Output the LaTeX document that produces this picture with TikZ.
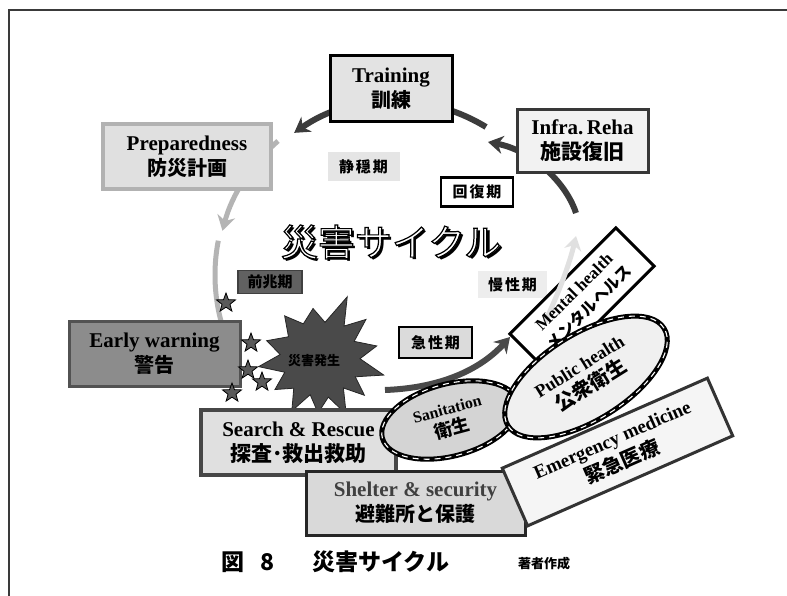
\documentclass[tikz,border=0pt]{standalone}
\usepackage{fontspec}
\setmainfont{Liberation Serif}
\newfontfamily\jp{Noto Sans CJK JP}
\usetikzlibrary{shapes.geometric,arrows.meta}
\definecolor{arcdark}{HTML}{3C3C3C}
\definecolor{arclight}{HTML}{B4B4B4}
\definecolor{arcpale}{HTML}{E0E0E0}
\definecolor{framec}{HTML}{3A3A3A}
\definecolor{burstfill}{HTML}{4A4A4A}
\definecolor{starfill}{HTML}{5A5A5A}
\newcommand\ENt[2][21]{{\fontsize{#1}{25}\selectfont\bfseries #2}}
\newcommand\JPt[2][20]{{\jp\bfseries\fontsize{#1}{25}\selectfont #2}}
\begin{document}
\begin{tikzpicture}[x=1pt,y=-1pt,
  box/.style={rectangle, draw, line width=3pt, inner sep=0pt, align=center, font=\fontsize{20}{25}\selectfont},
  phase/.style={rectangle, inner sep=0pt, minimum width=72pt, minimum height=29pt, font=\jp\bfseries\fontsize{15}{18}\selectfont},
  chain/.style={ellipse, draw=black, line width=5pt, inner sep=0pt, align=center,
     postaction={draw=white, line width=1.1pt, dash pattern=on 6pt off 5pt}},
  ttl/.style={font=\jp\fontsize{37}{40}\selectfont, inner sep=0pt},
  starn/.style={star, star points=5, star point ratio=2.4, minimum size=20pt, inner sep=0pt, fill=starfill, draw=black, line width=0.8pt},
  darkarc/.style={draw=arcdark, line width=6pt},
  lightarc/.style={draw=arclight, line width=5pt},
  bighead/.style={-{Stealth[length=15pt,width=18pt]}}
]
\useasboundingbox (0,0) rectangle (787,596);
\fill[white] (0,0) rectangle (787,596);
% frame
\coordinate (frTR) at (787,10);
\coordinate (frTL) at (9,10);
\coordinate (frBL) at (9,596);
\draw[framec, line width=2pt] (frTR) -- (frTL) -- (frBL);

% cycle arcs (under the boxes)
\coordinate (trTail) at (486,127);
\draw[darkarc, bighead] (trTail) arc[start angle=-58.5, end angle=-125, radius=175];
\coordinate (prTail) at (278,141);
\draw[lightarc, bighead, draw=arclight] (prTail) arc[start angle=-131, end angle=-165.5, radius=178];
\coordinate (ewTail) at (218.3,240.7);
\draw[lightarc] (ewTail) arc[start angle=-169, end angle=-200, radius=180];
\coordinate (irTail) at (576,213);
\coordinate (irHead) at (488,142);
\draw[darkarc, bighead] (irTail) .. controls (565,180) and (530,150) .. (irHead);
\coordinate (acTail) at (385,390);
\coordinate (acHead) at (510,337);
\draw[darkarc, draw=burstfill, bighead] (acTail) .. controls (440,388) and (480,370) .. (acHead);

% main boxes
\node[box, fill=black!11, draw=black, minimum width=122pt, minimum height=66pt] (training) at (391,89) {\ENt{Training}\\\JPt{訓練}};
\node[box, fill=black!12, draw=black!30, line width=4pt, minimum width=168pt, minimum height=65pt] (prep) at (187,156.5) {\ENt{Preparedness}\\\JPt{防災計画}};
\node[box, fill=black!5, draw=black!78, minimum width=131pt, minimum height=63pt] (infra) at (582.5,141) {\ENt{Infra.\,Reha}\\\JPt[21]{施設復旧}};
\node[box, fill=black!45, draw=black!68, minimum width=171pt, minimum height=65pt] (early) at (154.5,353.5) {\ENt{Early warning}\\\JPt{警告}};

% phase labels
\node[phase, fill=black!10] (calm) at (363.5,166.5) {静\hspace{2pt}穏\hspace{2pt}期};
\node[phase, fill=white, draw=black, line width=2.5pt] (recov) at (477,192) {回\hspace{2pt}復\hspace{2pt}期};
\node[phase, fill=black!62, draw=black!75, line width=1.5pt, minimum width=64pt, minimum height=23pt] (precur) at (270,282) {前兆期};
\node[phase, fill=black!7, minimum width=69pt, minimum height=27pt] (chron) at (512.5,284.5) {慢\hspace{2pt}性\hspace{2pt}期};
\node[phase, fill=black!14, draw=black, line width=2.5pt, minimum width=73pt, minimum height=31pt] (acute) at (435.5,342.5) {急\hspace{2pt}性\hspace{2pt}期};

% title: black shadow, then white text with black outline (text render mode 2)
\node[ttl, text=black] (tshadow) at (394,245) {災害サイクル};
\node[ttl, text=black] (title) at (391,242) {\special{pdf:literal direct 2 Tr 1.2 w 0 G 1 g}災害サイクル\special{pdf:literal direct 0 Tr 0 g 0 G}};

% burst
\fill[burstfill, draw=black!85, line width=0.8pt, shift={(320,358)}]
  (-66:67) -- (-53:40) -- (-40:60) -- (-26:38) -- (-12:58) -- (1:40) -- (15:66) -- (28:40)
  -- (40:58) -- (52:38) -- (65:62) -- (78:40) -- (92:55) -- (105:38) -- (118:60) -- (131:40)
  -- (145:55) -- (158:38) -- (172:62) -- (185:40) -- (198:56) -- (214:38) -- (230:55) -- (244:38)
  -- (262:50) -- (278:36) -- cycle;
\node[font=\jp\bfseries\fontsize{13}{15}\selectfont, text=black] (burst) at (314,361) {災害発生};

% stars
\node[starn] (st1) at (226,303) {};
\node[starn] (st2) at (251,343) {};
\node[starn] (st3) at (248,370) {};
\node[starn] (st4) at (262,382) {};
\node[starn] (st5) at (232,393) {};

% mental health
\node[rectangle, draw=black, line width=3pt, fill=white, minimum width=150pt, minimum height=54pt, rotate=45, inner sep=0pt] (mental) at (582,300) {};
\coordinate (mhTail) at (545,322);
\coordinate (mhHead) at (576,236);
\draw[draw=arcpale, line width=5pt, -{Stealth[length=14pt,width=17pt]}] (mhTail) .. controls (560,290) and (570,262) .. (mhHead);
\node[rotate=45, align=center, inner sep=0pt, font=\fontsize{17}{22}\selectfont] (mentalT) at (mental.center) {\ENt[17]{Mental health}\\\JPt[16]{メンタルヘルス}};

% lower boxes
\node[box, fill=black!12, draw=black!72, line width=4pt, minimum width=195pt, minimum height=65pt] (search) at (298.5,442.5) {\ENt{Search \& Rescue}\\\JPt[21]{探査･救出救助}};
\node[box, fill=black!15, draw=black!85, minimum width=219pt, minimum height=64pt] (shelter) at (415.5,503) {{\color{black!75}\ENt{Shelter \& security}}\\\JPt{避難所と保護}};
\node[box, fill=black!4, draw=black!80, minimum width=224pt, minimum height=63pt, rotate=23.7] (emerg) at (617.5,452) {\ENt[19]{Emergency medicine}\\\JPt{緊急医療}};

% ellipses
\node[chain, fill=black!17, minimum width=140pt, minimum height=72pt, rotate=15, font=\fontsize{16}{21}\selectfont] (sanit) at (450,420) {\ENt[16]{Sanitation}\\\JPt[18]{衛生}};
\node[chain, fill=black!6, minimum width=184pt, minimum height=86pt, rotate=32, font=\fontsize{18}{23}\selectfont] (public) at (586,377) {\ENt[18]{Public health}\\\JPt{公衆衛生}};

% caption
\node[anchor=west, inner sep=0pt, font=\jp\bfseries\fontsize{23}{25}\selectfont] (cap) at (221,562) {図\hspace{16pt}8\hspace{38pt}災害サイクル};
\node[inner sep=0pt, font=\jp\bfseries\fontsize{13}{15}\selectfont] (author) at (544,564) {著者作成};
\end{tikzpicture}
\end{document}
